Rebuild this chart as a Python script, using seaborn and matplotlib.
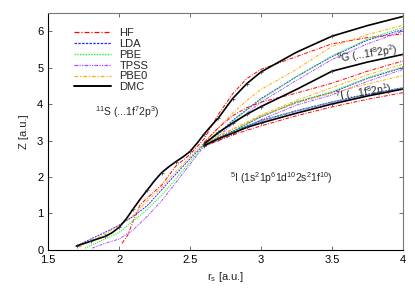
import numpy as np
import pandas as pd
import seaborn as sns
import matplotlib.pyplot as plt
from matplotlib.lines import Line2D

# r_s grids
rs_dmc_11s = [1.7, 1.8, 1.9, 1.95, 2.0, 2.05, 2.1, 2.15, 2.2, 2.25, 2.3, 2.35, 2.4, 2.45, 2.5,
              2.55, 2.6, 2.65, 2.7, 2.8, 2.9, 3.0, 3.25, 3.5, 3.75, 4.0]
rs_hi = [2.6, 2.7, 2.8, 2.9, 3.0, 3.25, 3.5, 3.75, 4.0]
rs_11s = [1.7, 1.8, 1.9, 2.0, 2.1, 2.2, 2.3, 2.4, 2.5, 2.6, 2.7, 2.8, 2.9, 3.0, 3.25, 3.5, 3.75, 4.0]
rs_hf_11s = [2.02, 2.06, 2.1, 2.15, 2.22, 2.3, 2.4, 2.5, 2.6, 2.7, 2.8, 2.9, 3.0, 3.25, 3.5, 3.75, 4.0]
rs_pbe_11s = [1.76, 1.8, 1.9, 2.0, 2.1, 2.2, 2.3, 2.4, 2.5, 2.6, 2.7, 2.8, 2.9, 3.0, 3.25, 3.5, 3.75, 4.0]
rs_tpss_11s = [1.81, 1.9, 2.0, 2.1, 2.2, 2.3, 2.4, 2.5, 2.6, 2.7, 2.8, 2.9, 3.0, 3.25, 3.5, 3.75, 4.0]
rs_pbe0_11s = [1.72, 1.8, 1.9, 2.0, 2.1, 2.2, 2.3, 2.4, 2.5, 2.6, 2.7, 2.8, 2.9, 3.0, 3.25, 3.5, 3.75, 4.0]
rs_marks = [1.7, 1.8, 1.9, 2.0, 2.1, 2.2, 2.3, 2.4, 2.5, 2.6, 2.7, 2.8, 2.9, 3.0, 3.5, 4.0]

# 11S branch
dmc_11s = [0.11, 0.24, 0.37, 0.47, 0.62, 0.85, 1.13, 1.40, 1.65, 1.90, 2.12, 2.28, 2.42, 2.55, 2.70,
           2.93, 3.18, 3.41, 3.62, 4.15, 4.56, 4.88, 5.42, 5.86, 6.15, 6.40]
hf_11s = [0.18, 0.40, 0.80, 1.25, 1.50, 1.78, 2.30, 2.62, 3.05, 3.72, 4.28, 4.70, 4.95, 5.30, 5.65, 5.82, 5.92]
lda_11s = [0.11, 0.30, 0.48, 0.68, 0.92, 1.22, 1.65, 2.08, 2.50, 2.90, 3.20, 3.55, 3.85, 4.15, 4.75, 5.30, 5.75, 6.04]
pbe_11s = [0.05, 0.12, 0.30, 0.48, 0.80, 1.12, 1.50, 1.95, 2.42, 2.88, 3.18, 3.52, 3.83, 4.12, 4.75, 5.32, 5.78, 6.10]
tpss_11s = [0.05, 0.18, 0.30, 0.55, 0.93, 1.35, 1.85, 2.35, 2.85, 3.12, 3.45, 3.75, 4.05, 4.65, 5.22, 5.65, 6.00]
pbe0_11s = [0.08, 0.25, 0.43, 0.66, 0.95, 1.35, 1.72, 2.15, 2.55, 2.95, 3.35, 3.75, 4.10, 4.40, 4.95, 5.58, 5.90, 6.16]

# 9G branch
dmc_9g = [2.91, 3.22, 3.48, 3.72, 3.93, 4.40, 4.90, 5.15, 5.36]
hf_9g = [2.95, 3.35, 3.68, 3.90, 4.05, 4.30, 4.57, 4.90, 5.18]
lda_9g = [2.87, 3.05, 3.25, 3.45, 3.65, 4.05, 4.32, 4.70, 5.00]
pbe_9g = [2.86, 3.05, 3.25, 3.46, 3.66, 4.06, 4.34, 4.72, 5.02]
tpss_9g = [2.84, 3.00, 3.18, 3.38, 3.57, 3.97, 4.25, 4.62, 4.95]
pbe0_9g = [2.88, 3.10, 3.30, 3.50, 3.70, 4.10, 4.45, 4.80, 5.09]

# 7I branch
dmc_7i = [2.86, 3.05, 3.20, 3.36, 3.48, 3.75, 4.00, 4.22, 4.41]
hf_7i = [2.85, 3.00, 3.15, 3.28, 3.40, 3.68, 3.92, 4.13, 4.31]
lda_7i = [2.88, 3.08, 3.25, 3.40, 3.55, 3.82, 4.06, 4.27, 4.45]
pbe_7i = [2.87, 3.07, 3.24, 3.39, 3.54, 3.81, 4.05, 4.26, 4.44]
tpss_7i = [2.86, 3.05, 3.22, 3.38, 3.52, 3.80, 4.04, 4.25, 4.43]
pbe0_7i = [2.90, 3.12, 3.32, 3.50, 3.68, 4.02, 4.30, 4.55, 4.78]

methods = ["HF", "LDA", "PBE", "TPSS", "PBE0", "DMC"]
colors = {"HF": "#ff0000", "LDA": "#2a2aff", "PBE": "#22ee22", "TPSS": "#a64dff",
          "PBE0": "#ffaa00", "DMC": "black"}
styles = {"HF": (0, (4, 1.5, 1, 1.5)), "LDA": (0, (2, 1)), "PBE": (0, (1, 1)),
          "TPSS": (0, (3, 1, 1, 1, 1, 1)), "PBE0": (0, (3, 1.5, 1, 1.5)), "DMC": "-"}
widths = {"HF": 0.7, "LDA": 0.7, "PBE": 0.8, "TPSS": 0.7, "PBE0": 0.7, "DMC": 1.2}

curves = [
    ("HF", rs_hf_11s, hf_11s), ("LDA", rs_11s, lda_11s), ("PBE", rs_pbe_11s, pbe_11s),
    ("TPSS", rs_tpss_11s, tpss_11s), ("PBE0", rs_pbe0_11s, pbe0_11s),
    ("HF", rs_hi, hf_9g), ("LDA", rs_hi, lda_9g), ("PBE", rs_hi, pbe_9g),
    ("TPSS", rs_hi, tpss_9g), ("PBE0", rs_hi, pbe0_9g),
    ("HF", rs_hi, hf_7i), ("LDA", rs_hi, lda_7i), ("PBE", rs_hi, pbe_7i),
    ("TPSS", rs_hi, tpss_7i), ("PBE0", rs_hi, pbe0_7i),
    ("DMC", rs_dmc_11s, dmc_11s), ("DMC", rs_hi, dmc_9g), ("DMC", rs_hi, dmc_7i),
]

sns.set_style("ticks")
plt.rcParams["font.family"] = ["Liberation Sans", "DejaVu Sans"]
plt.rcParams["mathtext.fontset"] = "custom"
plt.rcParams["mathtext.rm"] = "Liberation Sans"
plt.rcParams["mathtext.it"] = "Liberation Sans"

fig = plt.figure(figsize=(4.15, 2.91), dpi=100)
ax = fig.add_axes([0.116, 0.141, 0.855, 0.815])

for m, xs, ys in curves:
    sns.lineplot(x=xs, y=ys, ax=ax, color=colors[m], linestyle=styles[m],
                 lw=widths[m], legend=False, sort=False)
    if m == "DMC":
        mx = [x for x in xs if x in rs_marks]
        my = [y for x, y in zip(xs, ys) if x in rs_marks]
        ax.plot(mx, my, ls="none", marker="+", ms=2.5, mew=0.5, color="#333333")

ax.set_xlim(1.5, 4.0)
ax.set_ylim(0, 6.5)
ax.set_xticks([1.5, 2, 2.5, 3, 3.5, 4])
ax.set_xticklabels(["1.5", "2", "2.5", "3", "3.5", "4"])
ax.set_yticks(range(7))
ax.tick_params(direction="in", length=3, width=0.6, labelsize=8, top=True, right=True,
               colors="#555555", labelcolor="black")
for s in ["top", "right"]:
    ax.spines[s].set_color("#777777")
for s in ["left", "bottom"]:
    ax.spines[s].set_color("black")
for s in ax.spines.values():
    s.set_linewidth(0.8)

ax.set_xlabel(r"r$_\mathrm{s}$ [a.u.]", fontsize=8, labelpad=4)
ax.set_ylabel("Z [a.u.]", fontsize=8, labelpad=6)

handles = [Line2D([], [], color=colors[m], linestyle=styles[m], lw=widths[m] + 0.2) for m in methods]
ax.legend(handles, methods, loc="upper left", bbox_to_anchor=(0.06, 0.955), frameon=False,
          fontsize=8, handlelength=3.3, handletextpad=0.8, labelspacing=0.08, borderaxespad=0)

ax.text(2.06, 3.79, r"$^{11}$S (...1f$^7$2p$^3$)", fontsize=7.5, ha="center", va="center")
ax.text(3.75, 5.36, r"$^{9}$G (...1f$^8$2p$^2$)", fontsize=7.5, ha="center", va="center", rotation=9)
ax.text(3.72, 4.32, r"$^{7}$I (...1f$^8$2p$^1$)", fontsize=7.5, ha="center", va="center", rotation=9)
ax.text(3.14, 1.96, r"$^{5}$I (1s$^2$1p$^6$1d$^{10}$2s$^2$1f$^{10}$)", fontsize=7.5, ha="center", va="center")

fig.savefig("out.png", dpi=100)
